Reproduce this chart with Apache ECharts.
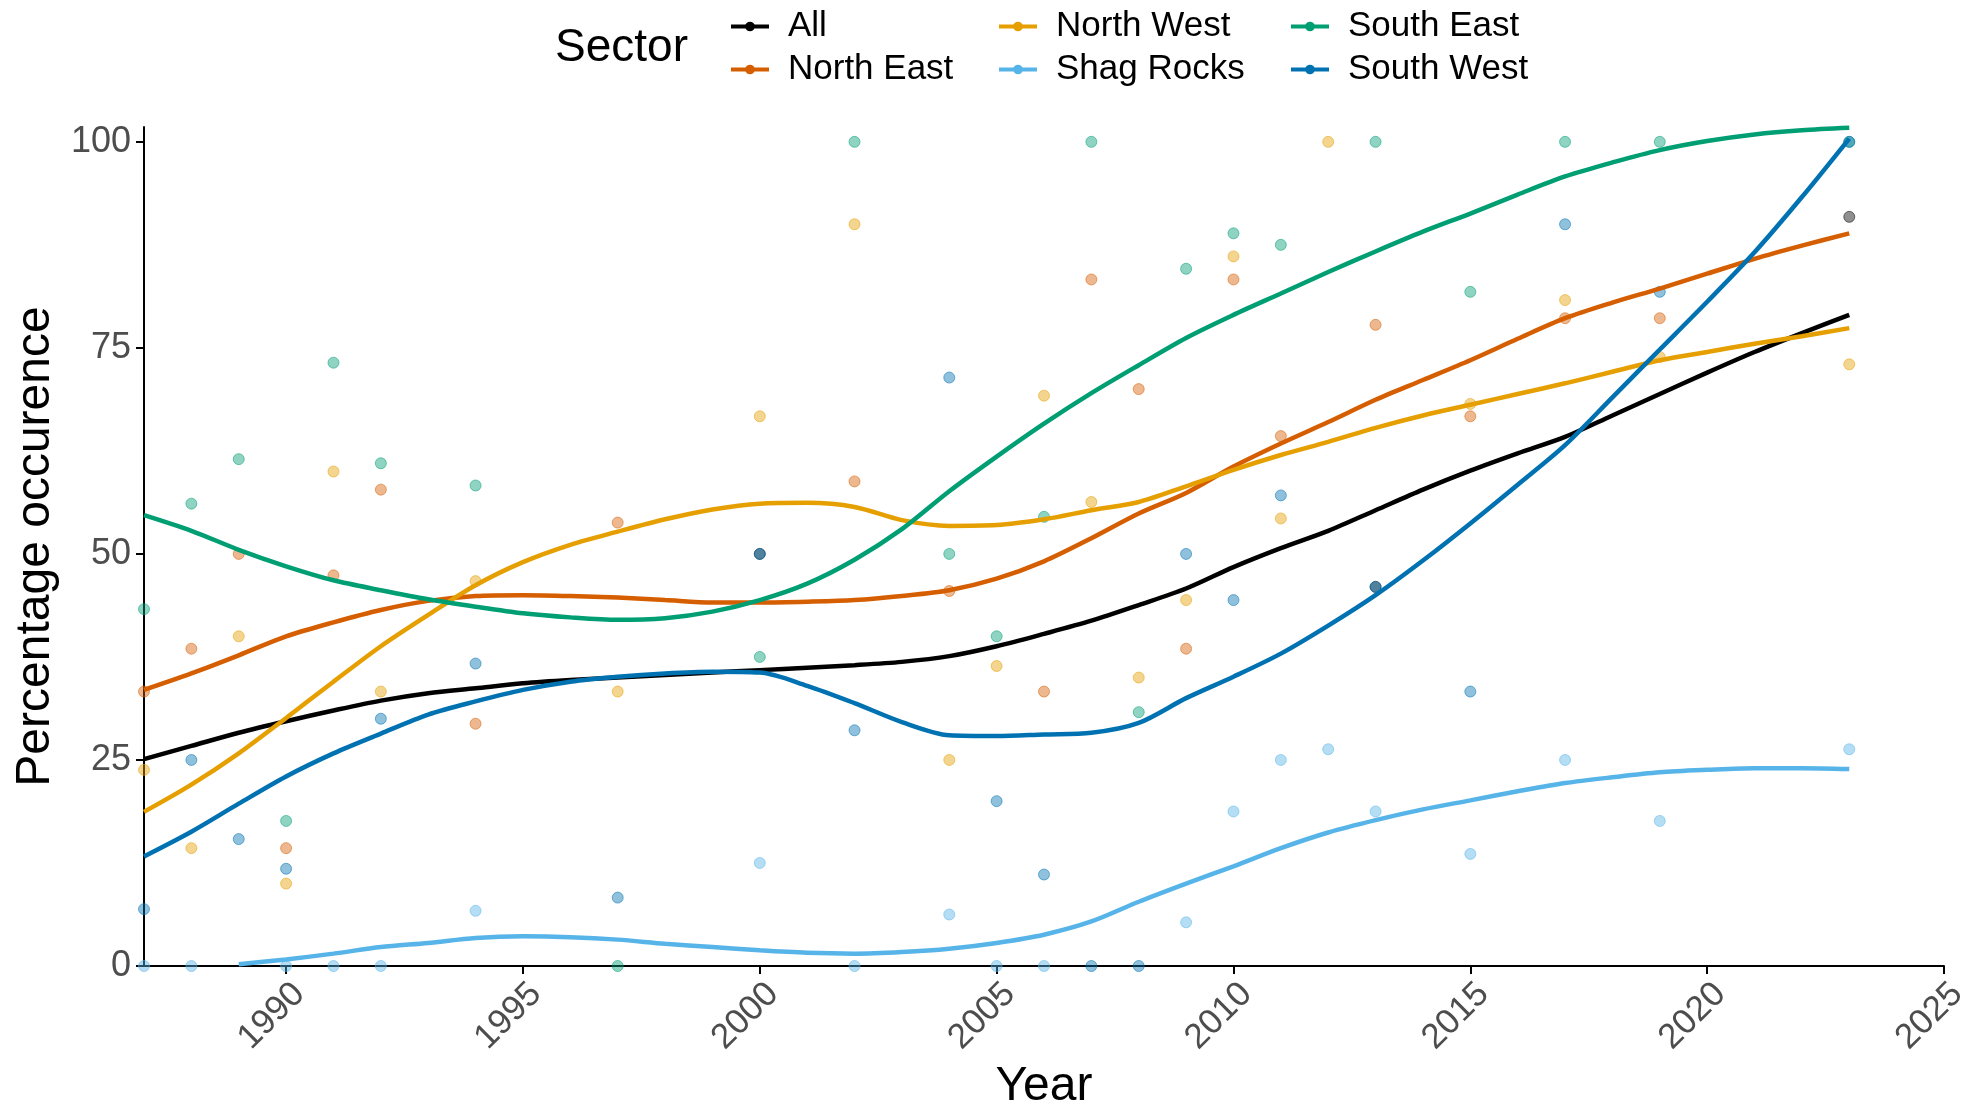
<!DOCTYPE html>
<html>
<head>
<meta charset="utf-8">
<title>Percentage occurence by sector</title>
<script src="https://cdn.jsdelivr.net/npm/echarts@6/dist/echarts.min.js"></script>
<style>
  html, body { margin: 0; padding: 0; background: #ffffff; }
  #chart { width: 1964px; height: 1110px; }
</style>
</head>
<body>
<div id="chart"></div>
<script>
// Sectors and their colours (Okabe-Ito palette)
const sectors = ['All', 'North East', 'North West', 'Shag Rocks', 'South East', 'South West'];
const sectorColors = ['#000000', '#D55E00', '#E69F00', '#56B4E9', '#009E73', '#0072B2'];

// Yearly observations (null = no survey in that sector that year)
const pointYears = [1987, 1988, 1989, 1990, 1991, 1992, 1994, 1997, 2000, 2002, 2004, 2005,
                    2006, 2007, 2008, 2009, 2010, 2011, 2012, 2013, 2015, 2017, 2019, 2023];
const allPoints  = [null, null, null, null, null, null, null, null, 50, null, null, null,
                    null, null, null, null, null, null, null, 46, null, null, null, 90.9];
const nePoints   = [33.3, 38.5, 50, 14.3, 47.4, 57.8, 29.4, 53.8, null, 58.8, 45.5, null,
                    33.3, 83.3, 70, 38.5, 83.3, 64.3, null, 77.8, 66.7, 78.6, 78.6, null];
const nwPoints   = [23.8, 14.3, 40, 10, 60, 33.3, 46.7, 33.3, 66.7, 90, 25, 36.4,
                    69.2, 56.3, 35, 44.4, 86.1, 54.3, 100, null, 68.2, 80.8, 73.9, 73];
const shagPoints = [0, 0, null, 0, 0, 0, 6.7, null, 12.5, 0, 6.25, 0,
                    0, null, null, 5.3, 18.75, 25, 26.3, 18.75, 13.6, 25, 17.6, 26.3];
const sePoints   = [43.3, 56.1, 61.5, 17.6, 73.2, 61, 58.3, 0, 37.5, 100, 50, 40,
                    54.5, 100, 30.8, 84.6, 88.9, 87.5, null, 100, 81.8, 100, 100, 100];
const swPoints   = [6.9, 25, 15.4, 11.8, null, 30, 36.7, 8.3, 50, 28.6, 71.4, 20,
                    11.1, 0, 0, 50, 44.4, 57.1, null, 46, 33.3, 90, 81.8, 100];

// Smoothed trend per sector, by year
const fitYears = [1987, 1988, 1989, 1990, 1991, 1992, 1993, 1994, 1995, 1996, 1997, 1998, 1999,
                  2000, 2001, 2002, 2003, 2004, 2005, 2006, 2007, 2008, 2009, 2010, 2011, 2012,
                  2013, 2014, 2015, 2016, 2017, 2018, 2019, 2020, 2021, 2022, 2023];
const allFit  = [25.1, 26.7, 28.3, 29.7, 31.0, 32.2, 33.1, 33.7, 34.3, 34.7, 35.0, 35.3, 35.6,
                 35.9, 36.2, 36.5, 36.9, 37.6, 38.8, 40.3, 41.9, 43.8, 45.8, 48.4, 50.7, 52.8,
                 55.3, 57.8, 60.1, 62.2, 64.2, 66.8, 69.4, 72.0, 74.5, 76.8, 79.0];
const neFit   = [33.5, 35.5, 37.7, 40.0, 41.7, 43.2, 44.3, 44.9, 45.0, 44.9, 44.7, 44.4, 44.1,
                 44.1, 44.2, 44.4, 44.9, 45.6, 47.0, 49.1, 51.9, 54.9, 57.4, 60.6, 63.4, 66.0,
                 68.7, 71.1, 73.5, 76.1, 78.6, 80.5, 82.2, 84.0, 85.8, 87.4, 88.9];
const nwFit   = [18.7, 22.0, 25.8, 30.1, 34.5, 38.8, 42.6, 46.2, 49.0, 51.1, 52.7, 54.2, 55.4,
                 56.1, 56.2, 55.7, 54.1, 53.4, 53.5, 54.2, 55.3, 56.3, 58.2, 60.2, 62.0, 63.6,
                 65.3, 66.8, 68.1, 69.4, 70.7, 72.1, 73.5, 74.5, 75.5, 76.4, 77.4];
const shagFit = [null, null, 0.2, 0.8, 1.5, 2.3, 2.8, 3.4, 3.6, 3.5, 3.2, 2.7, 2.3,
                 1.9, 1.6, 1.5, 1.7, 2.1, 2.8, 3.8, 5.4, 7.8, 10.0, 12.1, 14.3, 16.2,
                 17.7, 19.0, 20.1, 21.2, 22.2, 22.9, 23.5, 23.8, 24.0, 24.0, 23.9];
const seFit   = [54.7, 52.8, 50.5, 48.5, 46.8, 45.6, 44.5, 43.6, 42.8, 42.3, 42.0, 42.2, 43.0,
                 44.4, 46.4, 49.3, 53.0, 57.6, 61.8, 65.8, 69.5, 72.9, 76.2, 79.0, 81.6, 84.2,
                 86.7, 89.1, 91.3, 93.6, 95.8, 97.5, 99.0, 100.1, 100.9, 101.4, 101.7];
const swFit   = [13.3, 16.3, 19.7, 23.0, 25.8, 28.2, 30.5, 32.1, 33.5, 34.5, 35.1, 35.5, 35.7,
                 35.6, 34.0, 31.9, 29.6, 28.0, 27.9, 28.1, 28.3, 29.5, 32.5, 35.1, 37.9, 41.3,
                 45.0, 49.2, 53.7, 58.4, 63.2, 69.0, 74.8, 80.6, 86.6, 93.3, 100.4];

// Axis ticks
const xTicks = [1990, 1995, 2000, 2005, 2010, 2015, 2020, 2025];
const yTicks = [0, 25, 50, 75, 100];

const pointSets = [allPoints, nePoints, nwPoints, shagPoints, sePoints, swPoints];
const fitSets = [allFit, neFit, nwFit, shagFit, seFit, swFit];

const FONT = '"Liberation Sans", Arial, Helvetica, sans-serif';

function withAlpha(hex, a) {
  const n = parseInt(hex.slice(1), 16);
  return 'rgba(' + ((n >> 16) & 255) + ',' + ((n >> 8) & 255) + ',' + (n & 255) + ',' + a + ')';
}

function pairs(xs, ys) {
  const out = [];
  xs.forEach((x, i) => { if (ys[i] !== null && ys[i] !== undefined) out.push([x, ys[i]]); });
  return out;
}

// Trend lines first so the legend picks up the line icon; points sit underneath via z
const lineSeries = sectors.map((name, i) => ({
  type: 'line',
  name: name,
  data: pairs(fitYears, fitSets[i]),
  smooth: 0.3,
  showSymbol: false,
  symbol: 'circle',
  symbolSize: 9,
  lineStyle: { width: 4.5, color: sectorColors[i] },
  itemStyle: { color: sectorColors[i] },
  emphasis: { disabled: true },
  z: 3 + i * 0.01,
  silent: true
}));

const pointSeries = sectors.map((name, i) => ({
  type: 'scatter',
  name: name,
  data: pairs(pointYears, pointSets[i]),
  symbol: 'circle',
  symbolSize: 11,
  itemStyle: {
    color: withAlpha(sectorColors[i], 0.55),
    borderColor: withAlpha(sectorColors[i], 0.65),
    borderWidth: 1
  },
  emphasis: { disabled: true },
  z: 1,
  silent: true
}));

const legendBase = {
  orient: 'vertical',
  itemWidth: 38,
  itemHeight: 12,
  itemGap: 8,
  selectedMode: false,
  lineStyle: { width: 4 },
  textStyle: { fontFamily: FONT, fontSize: 35, color: '#000000', padding: [0, 0, 0, 14] }
};

const chart = echarts.init(document.getElementById('chart'), null, { renderer: 'canvas' });
chart.setOption({
  animation: false,
  backgroundColor: '#ffffff',
  title: {
    text: 'Sector',
    left: 550,
    top: 20,
    textStyle: { fontFamily: FONT, fontSize: 46, fontWeight: 'normal', color: '#000000' }
  },
  legend: [
    Object.assign({}, legendBase, { left: 724, top: 4, data: ['All', 'North East'] }),
    Object.assign({}, legendBase, { left: 992, top: 4, data: ['North West', 'Shag Rocks'] }),
    Object.assign({}, legendBase, { left: 1284, top: 4, data: ['South East', 'South West'] })
  ],
  grid: { left: 144, right: 20, top: 127, bottom: 144, containLabel: false, outerBoundsMode: 'none' },
  xAxis: {
    type: 'value',
    min: 1987,
    max: 2025,
    name: 'Year',
    nameLocation: 'middle',
    nameGap: 90,
    nameTextStyle: { fontFamily: FONT, fontSize: 48, color: '#000000' },
    axisLine: { show: true, onZero: false, lineStyle: { color: '#000000', width: 2 } },
    axisTick: { show: true, customValues: xTicks, length: 8, lineStyle: { color: '#000000', width: 2 } },
    axisLabel: {
      customValues: xTicks, rotate: 45, margin: 4,
      align: 'right', verticalAlign: 'top', padding: [5, 4, 0, 0],
      formatter: v => String(v),
      fontFamily: FONT, fontSize: 35, color: '#4d4d4d',
      showMinLabel: true, showMaxLabel: true
    },
    splitLine: { show: false }
  },
  yAxis: {
    type: 'value',
    min: 0,
    max: 101.8,
    name: 'Percentage occurence',
    nameLocation: 'middle',
    nameGap: 83,
    nameTextStyle: { fontFamily: FONT, fontSize: 48, color: '#000000' },
    axisLine: { show: true, lineStyle: { color: '#000000', width: 2 } },
    axisTick: { show: true, customValues: yTicks, length: 8, lineStyle: { color: '#000000', width: 2 } },
    axisLabel: { customValues: yTicks, margin: 13, fontFamily: FONT, fontSize: 36, color: '#4d4d4d' },
    splitLine: { show: false }
  },
  series: lineSeries.concat(pointSeries)
});
</script>
</body>
</html>
